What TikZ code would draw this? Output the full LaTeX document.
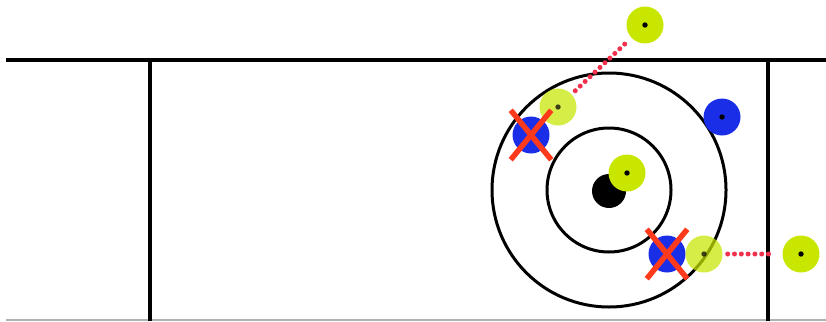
\documentclass[tikz,border=0pt]{standalone}
\usetikzlibrary{shapes.misc}
\definecolor{stoneyel}{HTML}{C8E600}
\definecolor{stoneblu}{HTML}{1A2EE8}
\definecolor{crossred}{HTML}{FF3A1C}
\definecolor{trackred}{HTML}{F0304C}
\tikzset{
	stone/.style={circle,inner sep=0pt,minimum size=37pt,fill=#1,
		path picture={\fill[black] (path picture bounding box.center) circle (2.7pt);}},
	ghost/.style={stone=stoneyel,fill opacity=0.72},
	knockout/.style={cross out,draw=crossred,line width=5.5pt,minimum width=35pt,minimum height=44pt,inner sep=0pt},
	track/.style={trackred,line width=5pt,line cap=round,dash pattern=on 0pt off 6.8pt},
	ring/.style={circle,draw,line width=3pt,inner sep=0pt,minimum size=#1},
}
\begin{document}
\begin{tikzpicture}[x=1pt,y=-1pt]
		\useasboundingbox (0,0) rectangle (826,321);
		\draw[line width=3.5pt] (6,60) -- (826,60);
		\draw[gray!60,line width=1.5pt] (6,320) -- (826,320);
		\foreach \x in {150,768} {
			\draw[line width=3.5pt] (\x,60) -- (\x,321);
		}
		\node[ring=234pt] (outer) at (609,190) {};
		\node[ring=124pt] (inner) at (609,190) {};
		\node[circle,fill,inner sep=0pt,minimum size=34pt] (button) at (609,191) {};
		% stones
		\node[stone=stoneblu] (b1) at (531,135) {};
		\node[stone=stoneblu] (b2) at (722,117) {};
		\node[stone=stoneblu] (b3) at (667,254) {};
		\node[stone=stoneyel] (y1) at (645,25) {};
		\node[ghost] (y2) at (558,107) {};
		\node[stone=stoneyel] (y3) at (627,173) {};
		\node[ghost] (y4) at (704,254) {};
		\node[stone=stoneyel] (y5) at (801,254) {};
		\draw[track,shorten <=5pt,shorten >=8pt] (y2) -- (y1);
		\draw[track,shorten <=5pt,shorten >=9pt] (y4) -- (y5);
		\node[knockout] (x1) at (b1) {};
		\node[knockout] (x3) at (b3) {};
	\end{tikzpicture}
\end{document}
